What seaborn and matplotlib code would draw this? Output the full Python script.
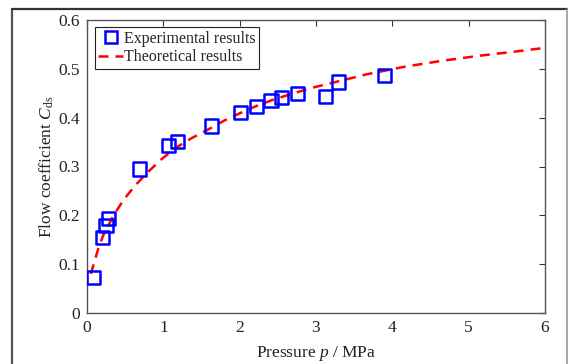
import matplotlib
matplotlib.use('Agg')
import pandas as pd
import seaborn as sns
from matplotlib import pyplot as plt
from matplotlib.lines import Line2D

# experimental points (pressure in MPa, flow coefficient)
p_exp = [0.09, 0.20, 0.25, 0.28, 0.69, 1.07, 1.19, 1.63, 2.01, 2.22,
         2.41, 2.55, 2.76, 3.12, 3.30, 3.90]
cds_exp = [0.073, 0.155, 0.180, 0.194, 0.295, 0.343, 0.351, 0.383, 0.410, 0.423,
           0.435, 0.441, 0.449, 0.444, 0.473, 0.486]

# theoretical curve
p_theo = [0.05, 0.15, 0.22, 0.35, 0.48, 0.62, 0.78, 0.97, 1.15, 1.37, 1.59, 1.81,
          2.03, 2.22, 2.46, 2.75, 2.97, 3.23, 3.67, 4.15, 4.63, 5.15, 5.59, 6.0]
cds_theo = [0.080, 0.133, 0.162, 0.200, 0.232, 0.259, 0.286, 0.314, 0.337, 0.358,
            0.376, 0.395, 0.411, 0.424, 0.438, 0.452, 0.462, 0.472, 0.489, 0.504,
            0.516, 0.527, 0.535, 0.543]

x_ticks = [0, 1, 2, 3, 4, 5, 6]
y_ticks = [0, 0.1, 0.2, 0.3, 0.4, 0.5, 0.6]
y_tick_labels = ['0', '0.1', '0.2', '0.3', '0.4', '0.5', '0.6']


def main():
    sns.set_style('white')
    plt.rcParams['font.family'] = ['Liberation Serif', 'DejaVu Serif']
    plt.rcParams['mathtext.fontset'] = 'custom'
    plt.rcParams['mathtext.rm'] = 'Liberation Serif'
    plt.rcParams['mathtext.it'] = 'Liberation Serif:italic'

    exp_df = pd.DataFrame({'p': p_exp, 'cds': cds_exp})
    theo_df = pd.DataFrame({'p': p_theo, 'cds': cds_theo})

    fig = plt.figure(figsize=(5.7, 3.64), dpi=100)
    ax = fig.add_axes([87 / 570, 51 / 364, 458 / 570, 293 / 364])

    sns.lineplot(data=theo_df, x='p', y='cds', ax=ax, color='#ff0000',
                 linewidth=1.8, zorder=2)
    ax.lines[-1].set_dashes((4.0, 2.8))
    sns.scatterplot(data=exp_df, x='p', y='cds', ax=ax, marker='s', s=90,
                    facecolor='none', edgecolor='#0000ff', linewidth=1.8, zorder=3)

    ax.set_xlim(0, 6)
    ax.set_ylim(0, 0.6)
    ax.set_xticks(x_ticks)
    ax.set_yticks(y_ticks)
    ax.set_yticklabels(y_tick_labels)
    ax.tick_params(direction='in', length=4, width=0.8, top=True, right=True,
                   labelsize=12.5, colors='#333333', labelcolor='#222222', pad=5)
    for spine in ax.spines.values():
        spine.set_color('#555555')
        spine.set_linewidth(1.0)
    ax.set_xlabel('Pressure $\\mathit{p}$ / MPa', fontsize=12.5, color='#222222', labelpad=5.5)
    ax.set_ylabel('Flow coefficient $\\mathit{C}_{\\mathrm{ds}}$', fontsize=12.5,
                  color='#222222', labelpad=2)

    handles = [
        Line2D([], [], marker='s', linestyle='none', markersize=9,
               markerfacecolor='none', markeredgecolor='#0000ff', markeredgewidth=1.8),
        Line2D([], [], color='#ff0000', linewidth=1.8, dashes=(4.0, 2.8)),
    ]
    leg = ax.legend(handles, ['Experimental results', 'Theoretical results'],
                    loc='upper left', bbox_to_anchor=(0.017, 0.975), fontsize=11.5,
                    frameon=True, fancybox=False, framealpha=1, edgecolor='#222222',
                    borderpad=0.22, labelspacing=0.15, handlelength=1.55,
                    handletextpad=0.08, borderaxespad=0.0)
    leg.get_frame().set_linewidth(0.8)

    # outer figure frame
    fig.add_artist(Line2D([12 / 570, 12 / 570], [0, 1 - 9 / 364],
                          transform=fig.transFigure, color='#555555', linewidth=1.6))
    fig.add_artist(Line2D([12 / 570, 567 / 570], [1 - 9 / 364, 1 - 9 / 364],
                          transform=fig.transFigure, color='#333333', linewidth=1.6))
    fig.add_artist(Line2D([567 / 570, 567 / 570], [0, 1 - 9 / 364],
                          transform=fig.transFigure, color='#999999', linewidth=1.2))

    fig.savefig('out.png', dpi=100)


if __name__ == '__main__':
    main()
